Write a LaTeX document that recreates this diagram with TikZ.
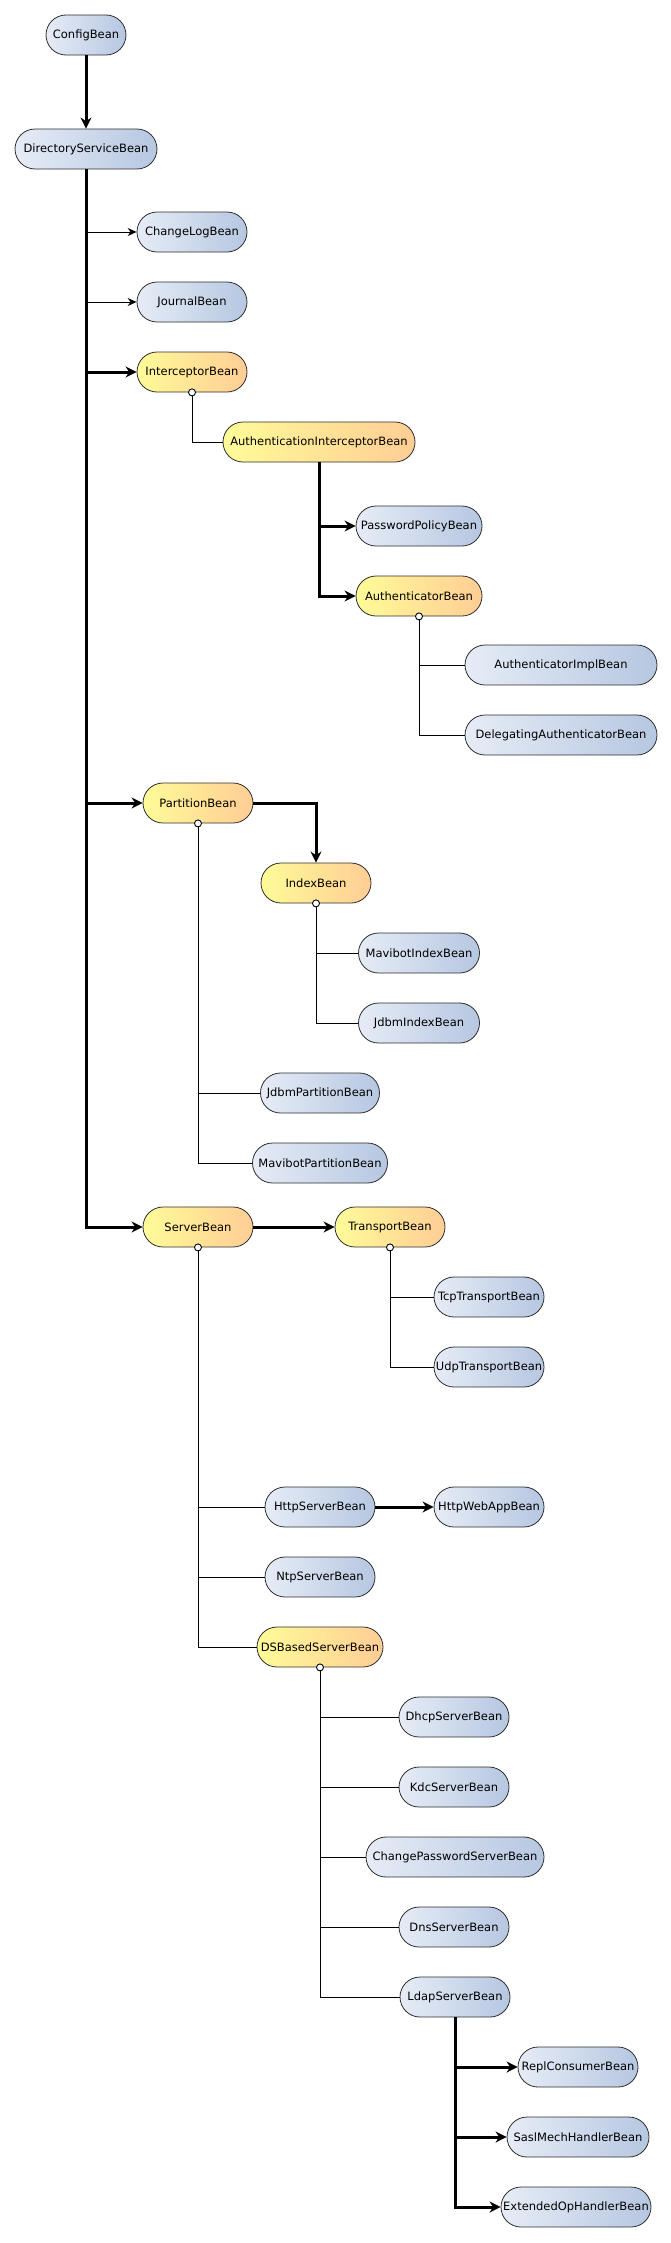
\documentclass[tikz,border=0pt]{standalone}
\usepackage{fontspec}
\setmainfont{DejaVu Sans}
\usepackage{tikz}
\usetikzlibrary{arrows.meta,calc}
\definecolor{beanL}{HTML}{E6ECF6}
\definecolor{beanR}{HTML}{B6C7E1}
\definecolor{holdL}{HTML}{FFFB98}
\definecolor{holdR}{HTML}{FFCD95}
\definecolor{rim}{HTML}{2E2E2E}

\begin{document}
\begin{tikzpicture}[x=1pt,y=-1pt,font=\fontsize{11.5}{13}\selectfont]
\tikzstyle{bean}=[draw=rim,line width=0.8pt,rounded corners=20pt,minimum height=40pt,
  inner xsep=1pt,minimum width=110pt,left color=beanL,right color=beanR]
\tikzstyle{holder}=[bean,left color=holdL,right color=holdR]
\tikzstyle{owns}=[line width=3pt,-{Stealth[length=11pt,width=11pt,inset=3.5pt]}]
\tikzstyle{refs}=[line width=0.9pt,-{Stealth[length=9pt,width=8pt,inset=3pt]}]
\tikzstyle{has}=[line width=0.9pt]
\tikzstyle{knob}=[line width=0.9pt,fill=white]
\useasboundingbox (0,0) rectangle (671,2243);
% top
\node[bean,minimum width=80pt] (cfg) at (86,35) {ConfigBean};
\node[bean,minimum width=142pt] (dsb) at (86,149) {DirectoryServiceBean};
\node[bean] (clog) at (192,232) {ChangeLogBean};
\node[bean] (jour) at (192,302) {JournalBean};
\node[holder] (intc) at (192,372) {InterceptorBean};
% interceptors
\node[holder,minimum width=192pt] (authint) at (319,442) {AuthenticationInterceptorBean};
\node[bean,minimum width=126pt] (ppol) at (419,526) {PasswordPolicyBean};
\node[holder,minimum width=126pt] (authr) at (419,596) {AuthenticatorBean};
\node[bean,minimum width=192pt] (aimpl) at (561,665) {AuthenticatorImplBean};
\node[bean,minimum width=192pt] (deleg) at (561,735) {DelegatingAuthenticatorBean};
% partitions
\node[holder] (part) at (198,803) {PartitionBean};
\node[holder] (index) at (316,883) {IndexBean};
\node[bean,minimum width=121pt] (mvidx) at (419,953) {MavibotIndexBean};
\node[bean,minimum width=121pt] (jbidx) at (419,1023) {JdbmIndexBean};
\node[bean,minimum width=119pt] (jbpart) at (320,1093) {JdbmPartitionBean};
\node[bean,minimum width=135pt] (mvpart) at (320,1163) {MavibotPartitionBean};
% servers
\node[holder] (server) at (198,1227) {ServerBean};
\node[holder] (transp) at (390,1227) {TransportBean};
\node[bean] (tcp) at (489,1297) {TcpTransportBean};
\node[bean] (udp) at (489,1367) {UdpTransportBean};
\node[bean] (http) at (320,1507) {HttpServerBean};
\node[bean] (webapp) at (489,1507) {HttpWebAppBean};
\node[bean] (ntp) at (320,1577) {NtpServerBean};
\node[holder,minimum width=126pt] (dsbased) at (320,1647) {DSBasedServerBean};
\node[bean] (dhcp) at (454,1717) {DhcpServerBean};
\node[bean] (kdc) at (454,1787) {KdcServerBean};
\node[bean,minimum width=178pt] (chpw) at (455,1857) {ChangePasswordServerBean};
\node[bean] (dns) at (454,1927) {DnsServerBean};
\node[bean] (ldap) at (455,1997) {LdapServerBean};
\node[bean,minimum width=120pt] (repl) at (578,2067) {ReplConsumerBean};
\node[bean,minimum width=142pt] (sasl) at (578,2137) {SaslMechHandlerBean};
\node[bean,minimum width=150pt] (extop) at (576,2207) {ExtendedOpHandlerBean};

% connectors
\draw[owns] (cfg.south) -- (dsb.north);
\foreach \kid in {clog,jour} \draw[refs] (dsb.south) |- (\kid.west);
\foreach \kid in {intc,part,server} \draw[owns] (dsb.south) |- (\kid.west);
\draw[has] (intc.south) |- (authint.west);
\foreach \kid in {ppol,authr} \draw[owns] (authint.south) |- (\kid.west);
\foreach \kid in {aimpl,deleg} \draw[has] (authr.south) |- (\kid.west);
\draw[owns] (part.east) -| (index.north);
\foreach \kid in {mvidx,jbidx} \draw[has] (index.south) |- (\kid.west);
\foreach \kid in {jbpart,mvpart} \draw[has] (part.south) |- (\kid.west);
\draw[owns] (server.east) -- (transp.west);
\foreach \kid in {tcp,udp} \draw[has] (transp.south) |- (\kid.west);
\foreach \kid in {http,ntp,dsbased} \draw[has] (server.south) |- (\kid.west);
\draw[owns] (http.east) -- (webapp.west);
\foreach \kid in {dhcp,kdc,chpw,dns,ldap} \draw[has] (dsbased.south) |- (\kid.west);
\foreach \kid in {repl,sasl,extop} \draw[owns] (ldap.south) |- (\kid.west);
% open ends
\foreach \n in {intc,authr,part,index,server,transp,dsbased}
  \draw[knob] (\n.south) circle (3.5pt);
\end{tikzpicture}
\end{document}
